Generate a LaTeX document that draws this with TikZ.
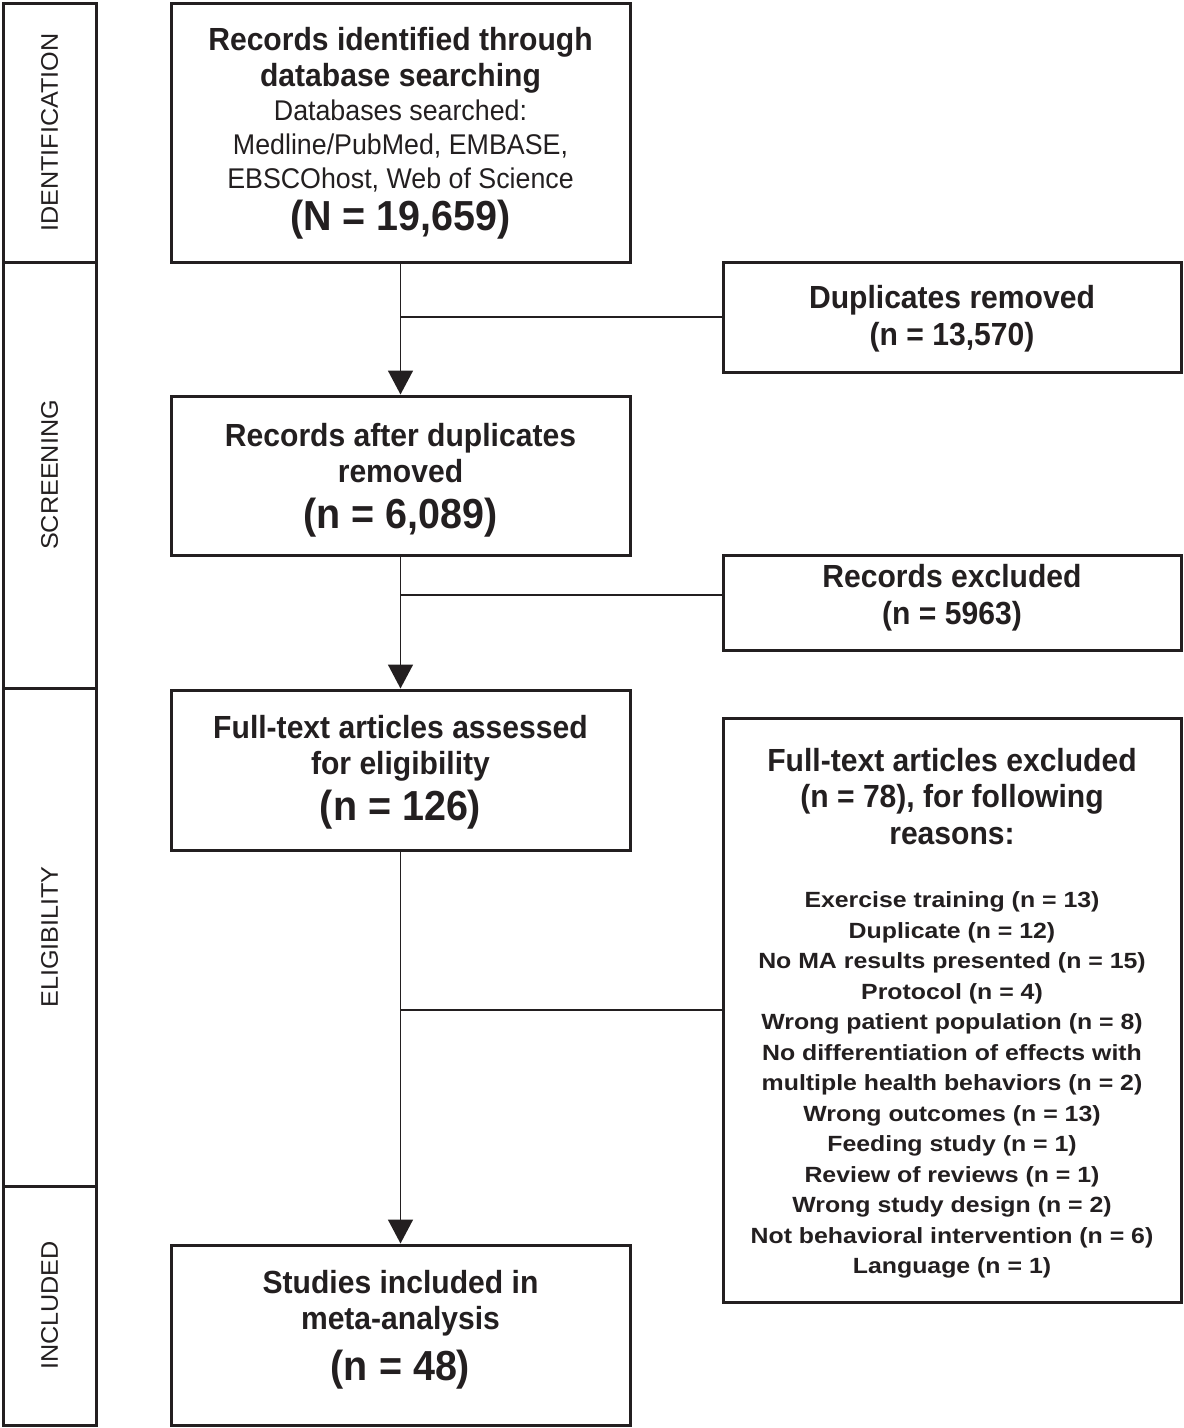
\documentclass[tikz,border=0pt]{standalone}
\usepackage{fontspec}
\setmainfont{Liberation Sans}
\newfontfamily\listsans[FakeStretch=1.13]{Liberation Sans}
\newfontfamily\stagesans[FakeStretch=1.05]{Liberation Sans}
\newfontfamily\titlesans[FakeStretch=0.94]{Liberation Sans}
\usetikzlibrary{arrows.meta}
\definecolor{ink}{RGB}{35,31,32}
\begin{document}
\begin{tikzpicture}[x=1pt,y=-1pt,
  box/.style={draw=ink, line width=3pt, inner sep=0pt},
  mainbox/.style={box, minimum width=459pt},
  sidebox/.style={box, minimum width=458pt},
  stagebox/.style={box, rotate=90, minimum height=93pt, font=\stagesans\fontsize{24}{28}\selectfont, text=ink},
  ttl/.style={align=center, text=ink, inner sep=0pt, font=\titlesans\bfseries\fontsize{32}{36}\selectfont},
  sub/.style={align=center, text=ink, inner sep=0pt, font=\titlesans\fontsize{28.5}{34}\selectfont},
  big/.style={text=ink, inner sep=0pt, font=\titlesans\bfseries\fontsize{42}{46}\selectfont},
  lst/.style={align=center, text=ink, inner sep=0pt, font=\listsans\bfseries\fontsize{22}{30.5}\selectfont},
  conn/.style={draw=ink, line width=1.6pt},
  arr/.style={conn, -{Triangle[length=24pt,width=25pt]}}]
\useasboundingbox (0,0) rectangle (1184,1428);

% stage boxes
\node[stagebox, minimum width=259pt] (sid) at (49.5,132.5) {IDENTIFICATION};
\node[stagebox, minimum width=426pt] (ssc) at (49.5,475) {SCREENING};
\node[stagebox, minimum width=498pt] (sel) at (49.5,937) {ELIGIBILITY};
\node[stagebox, minimum width=239pt] (sin) at (49.5,1305.5) {INCLUDED};

% main column
\node[mainbox, minimum height=259pt] (rid) at (400.5,132.5) {};
\node[ttl] (ridt) at (400.5,60) {Records identified through\\database searching};
\node[sub] (rids) at (400.5,146) {Databases searched:\\Medline/PubMed, EMBASE,\\EBSCOhost, Web of Science};
\node[big] (ridn) at (400.5,220) {(N = 19,659)};

\node[mainbox, minimum height=159pt] (rad) at (400.5,475.5) {};
\node[ttl] (radt) at (400.5,453.5) {Records after duplicates\\removed};
\node[big] (radn) at (400.5,518) {(n = 6,089)};

\node[mainbox, minimum height=160pt] (fta) at (400.5,770) {};
\node[ttl] (ftat) at (400.5,748.5) {Full-text articles assessed\\for eligibility};
\node[big] (ftan) at (400.5,810) {(n = 126)};

\node[mainbox, minimum height=180pt] (inc) at (400.5,1335) {};
\node[ttl] (inct) at (400.5,1303) {Studies included in\\meta-analysis};
\node[big] (incn) at (400.5,1370) {(n = 48)};

% side column
\node[sidebox, minimum height=110pt] (dup) at (952,317) {};
\node[ttl, font=\titlesans\bfseries\fontsize{32}{37}\selectfont] (dupt) at (952,318.5) {Duplicates removed\\(n = 13,570)};

\node[sidebox, minimum height=95pt] (rex) at (952,602.5) {};
\node[ttl, font=\titlesans\bfseries\fontsize{32}{37}\selectfont] (rext) at (952,597.5) {Records excluded\\(n = 5963)};

\node[sidebox, minimum height=584pt] (ftx) at (952,1010) {};
\node[ttl, font=\titlesans\bfseries\fontsize{32}{36.5}\selectfont] (ftxt) at (952,796.5) {Full-text articles excluded\\(n = 78), for following\\reasons:};
\node[lst] (ftxl) at (952,1085) {Exercise training (n = 13)\\Duplicate (n = 12)\\No MA results presented (n = 15)\\Protocol (n = 4)\\Wrong patient population (n = 8)\\No differentiation of effects with\\multiple health behaviors (n = 2)\\Wrong outcomes (n = 13)\\Feeding study (n = 1)\\Review of reviews (n = 1)\\Wrong study design (n = 2)\\Not behavioral intervention (n = 6)\\Language (n = 1)};

% connectors
\draw[arr] (rid.south) -- (rad.north);
\draw[arr] (rad.south) -- (fta.north);
\draw[arr] (fta.south) -- (inc.north);
\draw[conn] (dup.west) -- (dup.west -| rid.south);
\coordinate (rexin) at ([yshift=7.5pt]rex.west);
\draw[conn] (rexin) -- (rexin -| rad.south);
\draw[conn] (ftx.west) -- (ftx.west -| fta.south);
\end{tikzpicture}
\end{document}
